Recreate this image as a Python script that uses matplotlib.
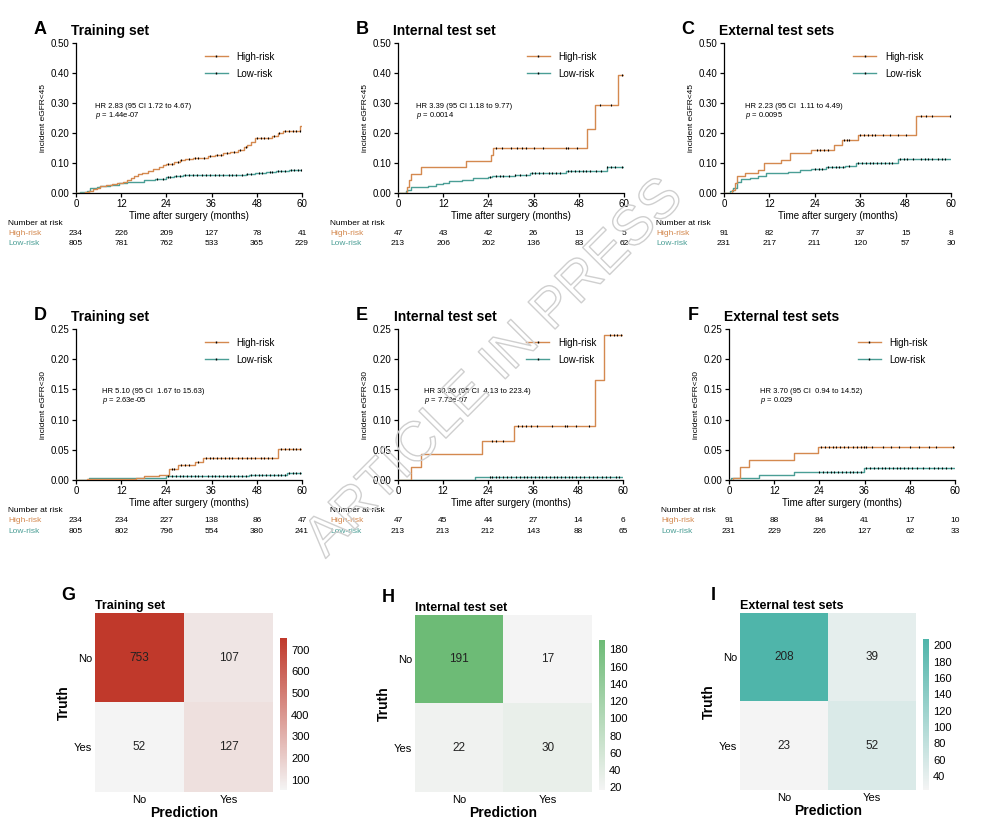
import numpy as np
import matplotlib
matplotlib.use("Agg")
import matplotlib.pyplot as plt
from matplotlib.colors import LinearSegmentedColormap
from matplotlib.lines import Line2D
from matplotlib.ticker import FormatStrFormatter
import matplotlib.patheffects as pe

plt.rcParams['font.family'] = ['Liberation Sans', 'DejaVu Sans']
plt.rcParams['mathtext.fontset'] = 'custom'
plt.rcParams['mathtext.it'] = 'Liberation Sans:italic'
plt.rcParams['mathtext.rm'] = 'Liberation Sans'

HIGH_COLOR = "#d4894f"
LOW_COLOR = "#4a9e95"
month_ticks = [0, 12, 24, 36, 48, 60]

# ---- A: training set, eGFR<45
a_hi_t = [0, 2.5, 3.5, 4.5, 5.5, 6.5, 8, 9.5, 11, 12.5, 13.5, 14.5, 15.5, 16.5, 17.5, 19, 20.5, 22, 23, 24,
          26, 27.5, 29, 31, 33, 35, 37, 39, 41, 43, 44.5, 45.5, 46.5, 47.5, 52, 53.5, 55, 59.6]
a_hi_y = [0, 0.004, 0.008, 0.012, 0.017, 0.022, 0.026, 0.030, 0.034, 0.038, 0.044, 0.050, 0.056, 0.062, 0.068,
          0.074, 0.080, 0.086, 0.092, 0.098, 0.104, 0.110, 0.114, 0.116, 0.118, 0.124, 0.128, 0.132, 0.138,
          0.144, 0.152, 0.160, 0.170, 0.183, 0.190, 0.200, 0.208, 0.224]
a_hi_c = [24.5, 25.5, 27, 28, 30, 31.5, 32.5, 34, 35.5, 37.5, 38.5, 40, 42, 43.5, 45, 48, 49, 50, 51, 52.5,
          54, 55.5, 56.5, 57.5, 58.5, 59.5]
a_lo_t = [0, 1, 2.8, 3.7, 5.5, 6.5, 9, 11.5, 13.5, 15.5, 18, 21, 24, 26, 28.5, 36, 45, 47.5, 50.5, 53, 56.5]
a_lo_y = [0, 0.002, 0.008, 0.017, 0.020, 0.024, 0.028, 0.033, 0.035, 0.038, 0.043, 0.048, 0.053, 0.057,
          0.059, 0.060, 0.062, 0.066, 0.070, 0.072, 0.077]
a_lo_c = [21.5, 23, 24.5, 25, 26.5, 27.5, 29, 30, 31, 32, 33.5, 34.5, 35.5, 37, 38, 39, 40.5, 41.5, 42.5, 44,
          45.5, 46.5, 48.5, 49.5, 51.5, 52, 53.5, 54.5, 55.5, 57, 58, 59, 59.8]
a_risk_hi = [234, 226, 209, 127, 78, 41]
a_risk_lo = [805, 781, 762, 533, 365, 229]

# ---- B: internal test set, eGFR<45
b_hi_t = [0, 2.3, 3.0, 3.5, 6, 18, 24.7, 25.1, 50.2, 52.2, 58.5]
b_hi_y = [0, 0.021, 0.043, 0.064, 0.085, 0.106, 0.128, 0.149, 0.213, 0.294, 0.394]
b_hi_c = [26, 27.5, 30, 31.5, 33, 34, 36, 38.5, 44.5, 45, 47.5, 53.5, 56.5, 59.5]
b_lo_t = [0, 2, 2.5, 3.5, 8, 10, 12, 13.5, 17, 20, 24, 25, 31, 35, 44.5, 55.5]
b_lo_y = [0, 0.005, 0.010, 0.019, 0.024, 0.029, 0.034, 0.039, 0.044, 0.049, 0.054, 0.058, 0.061, 0.066,
          0.073, 0.087]
b_lo_c = [24.5, 26, 27, 28, 29.5, 31, 32.5, 34, 35.5, 36.5, 37.5, 38.5, 40, 41, 42, 43, 45, 46, 47, 48, 49,
          50, 51, 52.5, 54, 55.5, 56.5, 57.5, 59.5]
b_risk_hi = [47, 43, 42, 26, 13, 5]
b_risk_lo = [213, 206, 202, 136, 83, 62]

# ---- C: external test sets, eGFR<45
c_hi_t = [0, 2, 3, 3.5, 5.5, 9, 10.5, 15, 17.5, 23, 29, 31.3, 35.3, 50.8]
c_hi_y = [0, 0.011, 0.033, 0.055, 0.066, 0.077, 0.099, 0.110, 0.132, 0.143, 0.159, 0.176, 0.194, 0.255]
c_hi_c = [24.5, 25.5, 26.5, 27.5, 31.8, 32.5, 33, 36, 37, 38, 39, 40, 42, 44, 46, 48, 52, 53.5, 55, 59.8]
c_lo_t = [0, 1.5, 2.5, 3.5, 4.5, 7, 9, 11, 17, 20, 23, 27, 32, 35, 46]
c_lo_y = [0, 0.005, 0.015, 0.035, 0.045, 0.050, 0.055, 0.065, 0.070, 0.075, 0.080, 0.085, 0.090, 0.100, 0.112]
c_lo_c = [24, 25, 26, 27.5, 28.5, 29.5, 30.5, 31.5, 33, 35.5, 36.5, 37.5, 38.5, 39.5, 40.5, 41.5, 42.5, 43.5,
          44.5, 46.5, 47.5, 48.5, 50, 52, 53, 54, 55, 56.5, 57.5, 58.5]
c_risk_hi = [91, 82, 77, 37, 15, 8]
c_risk_lo = [231, 217, 211, 120, 57, 30]

# ---- D: training set, eGFR<30
d_hi_t = [0, 3, 16, 18, 22, 24.8, 27, 31.5, 33.8, 53.5]
d_hi_y = [0, 0.002, 0.004, 0.006, 0.009, 0.019, 0.024, 0.030, 0.037, 0.051]
d_hi_c = [25.5, 26, 28, 29, 30, 32.5, 34.5, 35.5, 36.5, 37.5, 38.5, 39.5, 40.5, 41.5, 43, 44, 45.5, 46.5,
          47.5, 49, 50, 51, 52, 54.5, 55.5, 56.5, 57.5, 58.5, 59.5]
d_lo_t = [0, 3.5, 15.5, 24, 46, 56]
d_lo_y = [0, 0.003, 0.004, 0.006, 0.008, 0.012]
d_lo_c = [24.5, 25.5, 26.5, 27.5, 28.5, 29.5, 30.5, 31.5, 32.5, 33.5, 35, 36, 37, 38, 39, 40, 41, 42, 43,
          44, 45, 46.5, 47.5, 48.5, 49.5, 50.5, 51.5, 52.5, 53.5, 54.5, 55.5, 56.5, 57.5, 58.5, 59.5]
d_risk_hi = [234, 234, 227, 138, 86, 47]
d_risk_lo = [805, 802, 796, 554, 380, 241]

# ---- E: internal test set, eGFR<30
e_hi_t = [0, 3.5, 6, 22.5, 31, 52.5, 55]
e_hi_y = [0, 0.022, 0.043, 0.064, 0.089, 0.165, 0.240]
e_hi_c = [25, 26, 28, 32, 33, 34, 35.5, 37, 41, 44.5, 45, 47.5, 51, 56.5, 57.5, 58.5, 59.5]
e_lo_t = [0, 20.5]
e_lo_y = [0, 0.005]
e_lo_c = [24.5, 25, 26, 27, 28, 29, 30, 31.5, 32.5, 33.5, 34.5, 35.5, 36.5, 37.5, 38.5, 39.5, 40.5, 41.5,
          42.5, 43.5, 44.5, 45.5, 46.5, 47.5, 48.5, 49.5, 51, 52, 53, 54.5, 55.5, 56.5, 58, 59]
e_risk_hi = [47, 45, 44, 27, 14, 6]
e_risk_lo = [213, 213, 212, 143, 88, 65]

# ---- F: external test sets, eGFR<30
f_hi_t = [0, 1, 2.8, 5.3, 17.3, 23.7]
f_hi_y = [0, 0.004, 0.022, 0.033, 0.044, 0.055]
f_hi_c = [24.5, 25.5, 26.5, 27.5, 28.5, 29.5, 30.5, 31.5, 33, 34, 35, 35.8, 36.5, 38, 41, 43, 45, 48, 50.5,
          53, 55, 59.5]
f_lo_t = [0, 0.5, 8, 17.3, 35.8]
f_lo_y = [0, 0.004, 0.009, 0.013, 0.020]
f_lo_c = [24, 25, 26, 27, 28, 29, 30, 31, 32, 33, 34, 35, 36.5, 37.5, 38.5, 39.5, 40.5, 41.5, 42.5, 43.5,
          44.5, 45.5, 46.5, 47.5, 48.5, 50, 51.5, 53, 54.5, 55.5, 56.5, 57.5, 59]
f_risk_hi = [91, 88, 84, 41, 17, 10]
f_risk_lo = [231, 229, 226, 127, 62, 33]

# ---- confusion matrices (rows: truth No/Yes, cols: prediction No/Yes)
cm_labels = ["No", "Yes"]
g_cm = [[753, 107], [52, 127]]
h_cm = [[191, 17], [22, 30]]
i_cm = [[208, 39], [23, 52]]


def step_value(t, y, c):
    idx = np.searchsorted(t, c, side="right") - 1
    return np.asarray(y)[idx]


def km_panel(ax, letter, title, ymax, ystep, ylabel, hr, pval, hr_x, hr_y,
             hi, lo, risk_hi, risk_lo):
    for (t, y, c), col in ((lo, LOW_COLOR), (hi, HIGH_COLOR)):
        tt = np.append(t, 60)
        yy = np.append(y, y[-1])
        ax.step(tt, yy, where="post", color=col, lw=1.0, zorder=3)
        ax.plot(c, step_value(t, y, c), ls="none", marker="|", color="k",
                ms=2.0, mew=0.8, zorder=4)
    ax.set_xlim(0, 60)
    ax.set_ylim(0, ymax)
    ax.set_xticks(month_ticks)
    ax.set_yticks(np.arange(0, ymax + ystep / 2, ystep))
    ax.yaxis.set_major_formatter(FormatStrFormatter("%.2f"))
    ax.spines["top"].set_visible(False)
    ax.spines["right"].set_visible(False)
    for s in ("left", "bottom"):
        ax.spines[s].set_linewidth(0.9)
    ax.tick_params(direction="out", length=3, width=0.9, labelsize=7, pad=1.5)
    ax.set_xlabel("Time after surgery (months)", fontsize=7, labelpad=1)
    ax.set_ylabel(ylabel, fontsize=6, labelpad=3)
    ax.text(hr_x, hr_y, hr, fontsize=5.5, va="bottom", ha="left")
    ax.text(hr_x, hr_y, r"$\it{p}$ = " + pval, fontsize=5.5, va="top", ha="left")
    handles = [Line2D([], [], color=HIGH_COLOR, lw=1, marker="|", ms=2.0, mec="k"),
               Line2D([], [], color=LOW_COLOR, lw=1, marker="|", ms=2.0, mec="k")]
    ax.legend(handles, ["High-risk", "Low-risk"], loc="upper left", bbox_to_anchor=(0.53, 1.0),
              frameon=False, fontsize=7, handlelength=2.4, handletextpad=0.9,
              labelspacing=0.7, numpoints=1)
    tr = ax.get_xaxis_transform()
    ax.text(-0.30, -0.205, "Number at risk", transform=ax.transAxes, fontsize=6, va="center")
    ax.text(-0.30, -0.27, "High-risk", transform=ax.transAxes, fontsize=6, va="center",
            color=HIGH_COLOR)
    ax.text(-0.30, -0.34, "Low-risk", transform=ax.transAxes, fontsize=6, va="center",
            color=LOW_COLOR)
    for m, nh, nl in zip(month_ticks, risk_hi, risk_lo):
        ax.text(m, -0.27, str(nh), transform=tr, fontsize=6, ha="center", va="center")
        ax.text(m, -0.34, str(nl), transform=tr, fontsize=6, ha="center", va="center")
    ax.text(-0.16, 1.09, letter, transform=ax.transAxes, fontsize=13, fontweight="bold",
            ha="center", va="center")
    ax.text(-0.02, 1.08, title, transform=ax.transAxes, fontsize=10, fontweight="bold",
            ha="left", va="center")


def cm_panel(ax, cax, letter, title, cm, color, cticks):
    cm = np.array(cm)
    cmap = LinearSegmentedColormap.from_list("cm", ["#f4f4f4", color])
    im = ax.imshow(cm, cmap=cmap, vmin=cm.min(), vmax=cm.max(), aspect="auto")
    for i in range(2):
        for j in range(2):
            ax.text(j, i, str(cm[i, j]), ha="center", va="center", fontsize=8.5, color="#222222")
    ax.set_xticks([0, 1])
    ax.set_yticks([0, 1])
    ax.set_xticklabels(cm_labels)
    ax.set_yticklabels(cm_labels)
    ax.tick_params(length=0, labelsize=8, pad=2)
    for s in ax.spines.values():
        s.set_visible(False)
    ax.set_xlabel("Prediction", fontsize=10, fontweight="bold", labelpad=1)
    ax.set_ylabel("Truth", fontsize=10, fontweight="bold", labelpad=2)
    ax.set_title(title, loc="left", fontsize=9, fontweight="bold", pad=3)
    cb = plt.colorbar(im, cax=cax)
    cb.outline.set_visible(False)
    cb.set_ticks(cticks)
    cax.tick_params(length=0, labelsize=8, pad=3)
    ax.text(-0.15, 1.10, letter, transform=ax.transAxes, fontsize=13, fontweight="bold",
            ha="center", va="center")


fig = plt.figure(figsize=(10, 8.3), dpi=100)

row1 = 0.7675
row2 = 0.4217
axA = fig.add_axes([0.076, row1, 0.226, 0.1807])
axB = fig.add_axes([0.398, row1, 0.226, 0.1807])
axC = fig.add_axes([0.724, row1, 0.227, 0.1807])
axD = fig.add_axes([0.076, row2, 0.226, 0.1819])
axE = fig.add_axes([0.398, row2, 0.225, 0.1819])
axF = fig.add_axes([0.729, row2, 0.226, 0.1819])

km_panel(axA, "A", "Training set", 0.5, 0.1, "incident eGFR<45",
         "HR 2.83 (95 CI 1.72 to 4.67)", "1.44e-07", 5, 0.275,
         (a_hi_t, a_hi_y, a_hi_c), (a_lo_t, a_lo_y, a_lo_c), a_risk_hi, a_risk_lo)
km_panel(axB, "B", "Internal test set", 0.5, 0.1, "incident eGFR<45",
         "HR 3.39 (95 CI 1.18 to 9.77)", "0.0014", 4.8, 0.275,
         (b_hi_t, b_hi_y, b_hi_c), (b_lo_t, b_lo_y, b_lo_c), b_risk_hi, b_risk_lo)
km_panel(axC, "C", "External test sets", 0.5, 0.1, "incident eGFR<45",
         "HR 2.23 (95 CI  1.11 to 4.49)", "0.0095", 5.5, 0.275,
         (c_hi_t, c_hi_y, c_hi_c), (c_lo_t, c_lo_y, c_lo_c), c_risk_hi, c_risk_lo)
km_panel(axD, "D", "Training set", 0.25, 0.05, "incident eGFR<30",
         "HR 5.10 (95 CI  1.67 to 15.63)", "2.63e-05", 6.9, 0.14,
         (d_hi_t, d_hi_y, d_hi_c), (d_lo_t, d_lo_y, d_lo_c), d_risk_hi, d_risk_lo)
km_panel(axE, "E", "Internal test set", 0.25, 0.05, "incident eGFR<30",
         "HR 30.36 (95 CI  4.13 to 223.4)", "7.73e-07", 6.9, 0.14,
         (e_hi_t, e_hi_y, e_hi_c), (e_lo_t, e_lo_y, e_lo_c), e_risk_hi, e_risk_lo)
km_panel(axF, "F", "External test sets", 0.25, 0.05, "incident eGFR<30",
         "HR 3.70 (95 CI  0.94 to 14.52)", "0.029", 8.2, 0.14,
         (f_hi_t, f_hi_y, f_hi_c), (f_lo_t, f_lo_y, f_lo_c), f_risk_hi, f_risk_lo)

axG = fig.add_axes([0.095, 0.0458, 0.178, 0.2157])
caxG = fig.add_axes([0.280, 0.0482, 0.007, 0.183])
axH = fig.add_axes([0.415, 0.0458, 0.177, 0.2133])
caxH = fig.add_axes([0.599, 0.0482, 0.006, 0.181])
axI = fig.add_axes([0.740, 0.0482, 0.176, 0.2133])
caxI = fig.add_axes([0.923, 0.0482, 0.006, 0.182])

cm_panel(axG, caxG, "G", "Training set", g_cm, "#c0392b", [100, 200, 300, 400, 500, 600, 700])
cm_panel(axH, caxH, "H", "Internal test set", h_cm, "#6dbb76", [20, 40, 60, 80, 100, 120, 140, 160, 180])
cm_panel(axI, caxI, "I", "External test sets", i_cm, "#4fb5aa", [40, 60, 80, 100, 120, 140, 160, 180, 200])

# watermark: hollow outlined letters (transparent fill, grey stroke)
fig.text(0.495, 0.555, "ARTICLE IN PRESS", fontsize=40, rotation=45, ha="center", va="center",
         color=(1, 1, 1, 0), zorder=10,
         path_effects=[pe.Stroke(linewidth=1.0, foreground="#cfcfcf")])

fig.savefig("out.png", dpi=100)
